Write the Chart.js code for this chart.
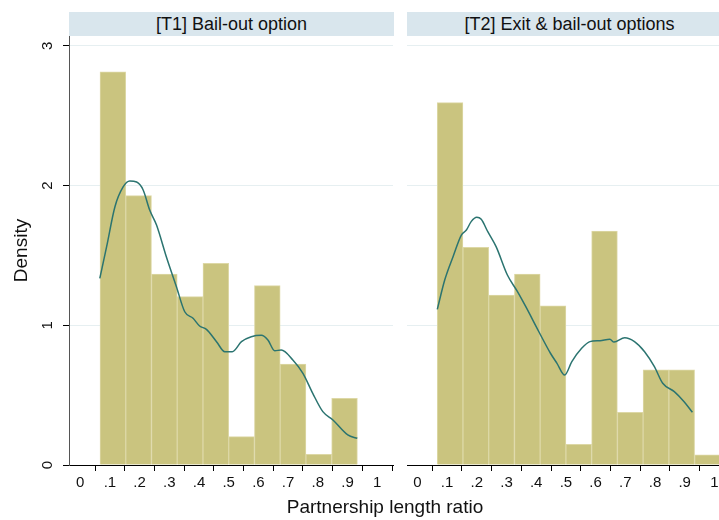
<!DOCTYPE html>
<html><head><meta charset="utf-8">
<script src="https://cdn.jsdelivr.net/npm/chart.js@4"></script>
<style>
html,body{margin:0;padding:0;background:#fff;overflow:hidden;width:719px;height:520px;}
#wrap{position:relative;width:719px;height:520px;overflow:hidden;font-family:"Liberation Sans",Arial,sans-serif;}
canvas{position:absolute;top:0;}
.strip{position:absolute;top:12px;height:24px;line-height:24px;background:#d9e6ed;text-align:center;font-size:18px;color:#111;white-space:nowrap;}
#xtitle{position:absolute;left:0;width:770px;top:496px;text-align:center;font-size:19px;color:#111;white-space:nowrap;}
</style></head><body>
<div id="wrap">
<canvas id="c1" width="400" height="520" style="left:0"></canvas>
<canvas id="c2" width="340" height="520" style="left:407px"></canvas>
<div class="strip" id="s1" style="left:69px;width:325px"></div>
<div class="strip" id="s2" style="left:407px;width:325px"></div>
<div id="xtitle"></div>
</div>
<script>
const panelTitles = ['[T1] Bail-out option', '[T2] Exit & bail-out options'];
const xAxisTitle = 'Partnership length ratio';
const yAxisTitle = 'Density';
const binCenters = [0.110, 0.1967, 0.2833, 0.370, 0.4567, 0.5433, 0.630, 0.7167, 0.8033, 0.890, 0.9767];
const densT1 = [2.815, 1.928, 1.367, 1.205, 1.444, 0.203, 1.284, 0.723, 0.077, 0.477];
const densT2 = [2.594, 1.558, 1.217, 1.367, 1.140, 0.148, 1.675, 0.377, 0.682, 0.682, 0.072];
const kdeT1X = [0.066,0.089,0.117,0.145,0.167,0.190,0.212,0.234,0.257,0.290,0.324,0.352,0.380,0.402,0.425,0.459,0.487,0.512,0.543,0.576,0.610,0.632,0.655,0.677,0.716,0.750,0.783,0.817,0.851,0.901,0.933];
const kdeT1Y = [1.336,1.563,1.849,1.992,2.033,2.026,1.969,1.825,1.718,1.491,1.276,1.097,1.050,0.995,0.971,0.883,0.811,0.811,0.883,0.918,0.928,0.895,0.818,0.823,0.752,0.656,0.513,0.382,0.322,0.215,0.191];
const kdeT2X = [0.067,0.092,0.120,0.148,0.165,0.181,0.200,0.215,0.237,0.265,0.303,0.337,0.365,0.409,0.448,0.470,0.496,0.520,0.553,0.581,0.615,0.648,0.662,0.698,0.731,0.765,0.798,0.826,0.865,0.898,0.926];
const kdeT2Y = [1.114,1.324,1.491,1.646,1.682,1.742,1.773,1.759,1.670,1.563,1.360,1.241,1.133,0.954,0.800,0.728,0.644,0.740,0.835,0.883,0.890,0.900,0.880,0.911,0.883,0.811,0.704,0.585,0.525,0.453,0.377];
const xTickValues = [0,0.1,0.2,0.3,0.4,0.5,0.6,0.7,0.8,0.9,1];
const xTickLabels = ['0','.1','.2','.3','.4','.5','.6','.7','.8','.9','1'];
const yTickValues = [0,1,2,3];
const yTickLabels = ['0','1','2','3'];

document.getElementById('s1').textContent = panelTitles[0];
document.getElementById('s2').textContent = panelTitles[1];
document.getElementById('xtitle').textContent = xAxisTitle;

const FONT = '"Liberation Sans", Arial, sans-serif';
Chart.defaults.font.family = FONT;

const yLabelPlugin = {
  id: 'yLabels',
  afterDraw(chart) {
    if (!chart.options.plugins.yLabels || !chart.options.plugins.yLabels.show) return;
    const ys = chart.scales.y, ctx = chart.ctx;
    ctx.save();
    ctx.fillStyle = '#111';
    ctx.font = '15px ' + FONT;
    ctx.textAlign = 'center';
    ctx.textBaseline = 'middle';
    yTickValues.forEach((v, i) => {
      const py = ys.getPixelForValue(v);
      ctx.save();
      ctx.translate(chart.chartArea.left - 21, py);
      ctx.rotate(-Math.PI / 2);
      ctx.fillText(yTickLabels[i], 0, 0);
      ctx.restore();
    });
    ctx.restore();
  }
};

function makePanel(id, dens, kx, ky, isLeft) {
  const xmin = isLeft ? -0.0377 : -0.035;
  const xmax = xmin + 324 / 297;
  return new Chart(document.getElementById(id), {
    type: 'bar',
    data: {
      datasets: [
        {
          type: 'line',
          order: 0,
          data: kx.map((x, i) => ({x: x, y: ky[i]})),
          borderColor: '#2b7470',
          borderWidth: 1.5,
          pointRadius: 0,
          fill: false,
          cubicInterpolationMode: 'monotone'
        },
        {
          type: 'bar',
          order: 1,
          data: dens.map((d, i) => ({x: binCenters[i], y: d})),
          backgroundColor: '#cac47f',
          borderColor: '#ddd8a6',
          borderWidth: 1,
          barPercentage: 1,
          categoryPercentage: 1,
          grouped: false
        }
      ]
    },
    options: {
      responsive: false,
      animation: false,
      devicePixelRatio: 1,
      layout: {padding: {top: 36, right: isLeft ? 7 : 16, left: 0, bottom: 0}},
      plugins: {legend: {display: false}, tooltip: {enabled: false}, yLabels: {show: isLeft}},
      scales: {
        x: {
          type: 'linear', min: xmin, max: xmax, offset: false,
          afterBuildTicks: s => { s.ticks = xTickValues.map(v => ({value: v})); },
          ticks: {
            callback: (v, i) => xTickLabels[i],
            font: {size: 15}, color: '#111', padding: 3, maxRotation: 0, autoSkip: false
          },
          grid: {drawOnChartArea: false, drawTicks: true, tickLength: 6, tickColor: '#000'},
          border: {color: '#000', width: 1},
          afterFit: s => { s.height = 55; }
        },
        y: {
          min: 0, max: 3.071,
          afterBuildTicks: s => { s.ticks = yTickValues.map(v => ({value: v})); },
          ticks: {display: false},
          grid: {
            color: c => (c.tick && c.tick.value === 0) ? 'rgba(0,0,0,0)' : '#e6eff1',
            drawTicks: isLeft, tickLength: 6, tickColor: '#000'
          },
          border: {display: isLeft, color: '#555', width: 1},
          title: {display: isLeft, text: yAxisTitle, font: {size: 19}, color: '#111', padding: {top: 10, bottom: 0}},
          afterFit: s => { s.width = isLeft ? 69 : 0; }
        }
      }
    },
    plugins: [yLabelPlugin]
  });
}

makePanel('c1', densT1, kdeT1X, kdeT1Y, true);
makePanel('c2', densT2, kdeT2X, kdeT2Y, false);
</script>
</body></html>
